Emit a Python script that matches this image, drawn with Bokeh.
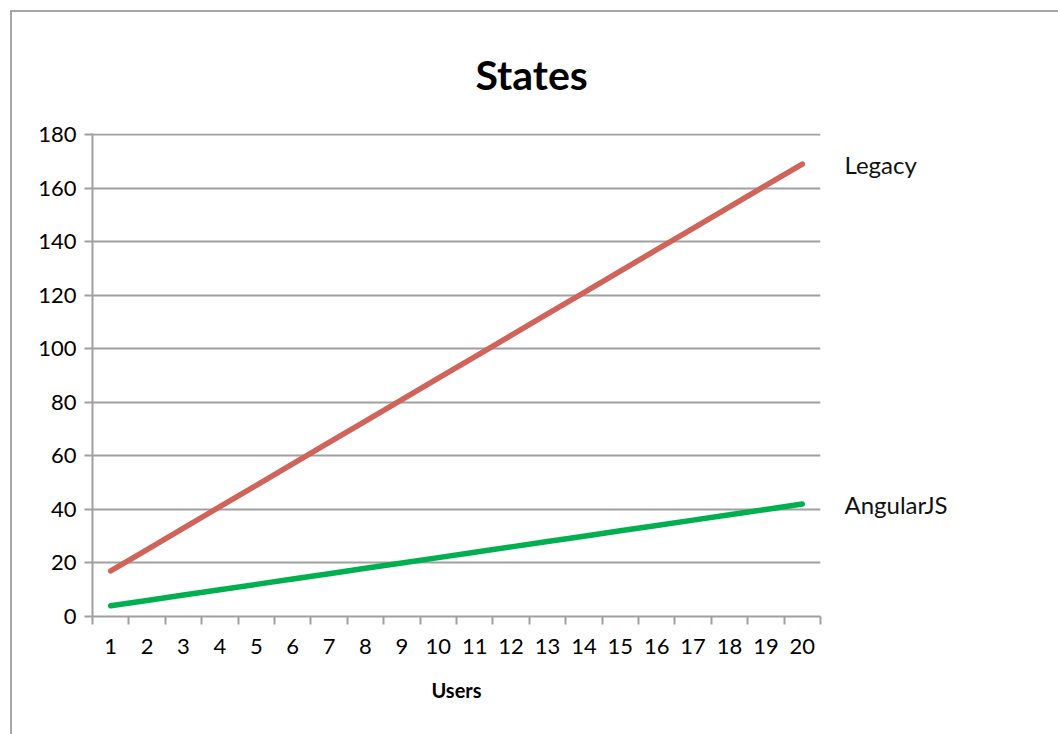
from bokeh.plotting import figure
from bokeh.models import Range1d, FixedTicker, LinearAxis
from bokeh.embed import file_html
from bokeh.resources import INLINE

users = list(range(1, 21))
legacy = [17, 25, 33, 41, 49, 57, 65, 73, 81, 89, 97, 105, 113, 121, 129, 137, 145, 153, 161, 169]
angular = [4, 6, 8, 10, 12, 14, 16, 18, 20, 22, 24, 26, 28, 30, 32, 34, 36, 38, 40, 42]
y_ticks = list(range(0, 181, 20))
series_names = ["Legacy", "AngularJS"]

FONT = "Lato"
GRAY = "#a0a0a0"

p = figure(width=1046, height=722, output_backend="svg", toolbar_location=None,
           x_range=Range1d(0.5, 20.5), y_range=Range1d(0, 180.4),
           min_border_left=80, min_border_right=238, min_border_top=120, min_border_bottom=119,
           frame_width=728, frame_height=483, title="States")
p.styles = {"margin-left": "10px", "margin-top": "10px",
            "border-left": "2px solid #a6a6a6", "border-top": "2px solid #a6a6a6"}
p.outline_line_color = None

p.title.text_font = FONT
p.title.text_font_size = "41px"
p.title.text_font_style = "bold"
p.title.text_color = "black"
p.title.align = "left"
p.title.offset = 383
p.title.standoff = 70

p.line(users, legacy, line_color="#D0645A", line_width=5.5, line_cap="round")
p.line(users, angular, line_color="#00B050", line_width=5.5, line_cap="round")

p.xaxis.ticker = FixedTicker(ticks=users, minor_ticks=[i + 0.5 for i in range(0, 21)])
p.xaxis.minor_tick_in = 0
p.xaxis.minor_tick_out = 8
p.xaxis.minor_tick_line_color = GRAY
p.xaxis.minor_tick_line_width = 2
p.yaxis.ticker = FixedTicker(ticks=y_ticks)
p.yaxis.major_tick_in = 0
p.yaxis.major_tick_out = 8
p.yaxis.minor_tick_line_color = None
for ax in (p.xaxis, p.yaxis):
    ax.axis_line_color = GRAY
    ax.axis_line_width = 2
    ax.major_tick_line_width = 2
    ax.major_tick_line_color = GRAY
    ax.major_label_text_font = FONT
    ax.major_label_text_font_size = "22px"
    ax.major_label_text_color = "black"
p.xaxis.major_label_standoff = 14
p.yaxis.major_label_standoff = 8
p.xaxis.major_tick_line_color = None
p.xaxis.axis_label = "Users"
p.xaxis.axis_label_text_font = FONT
p.xaxis.axis_label_text_font_size = "20px"
p.xaxis.axis_label_text_font_style = "bold"
p.xaxis.axis_label_text_color = "black"
p.xaxis.axis_label_standoff = 21

p.xgrid.visible = False
p.ygrid.ticker = FixedTicker(ticks=y_ticks)
p.ygrid.grid_line_color = GRAY
p.ygrid.grid_line_width = 2

# series names shown at the right end of each line
name_axis = LinearAxis(ticker=FixedTicker(ticks=[legacy[-1], angular[-1]]),
                       major_label_overrides={legacy[-1]: series_names[0],
                                              angular[-1]: series_names[1]})
name_axis.axis_line_color = None
name_axis.major_tick_line_color = None
name_axis.minor_tick_line_color = None
name_axis.major_label_standoff = 18
name_axis.major_label_text_font = FONT
name_axis.major_label_text_font_size = "24px"
name_axis.major_label_text_color = "#111111"
p.add_layout(name_axis, "right")

open("out.html", "w").write(file_html(p, INLINE))
